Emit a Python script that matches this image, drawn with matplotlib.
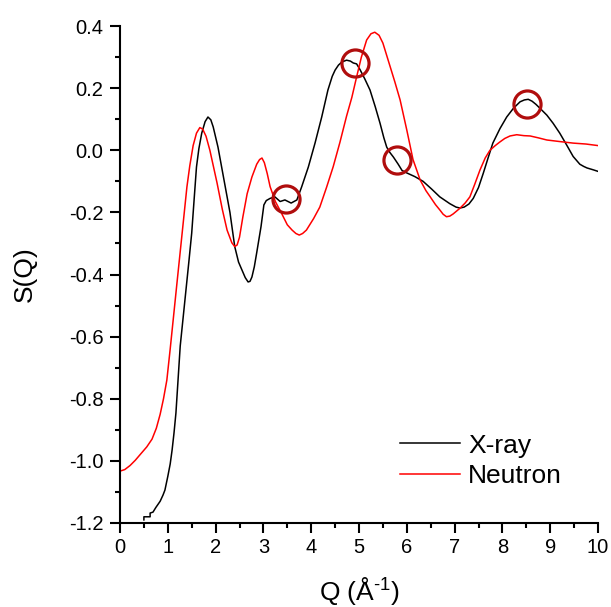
import numpy as np
import matplotlib
matplotlib.use("Agg")
import matplotlib.pyplot as plt
from matplotlib.ticker import MultipleLocator

plt.rcParams["font.family"] = ["Liberation Sans", "DejaVu Sans"]
plt.rcParams["mathtext.fontset"] = "custom"
plt.rcParams["mathtext.rm"] = "Liberation Sans"

# X-ray S(Q)
xray_q = [0.50, 0.50, 0.63, 0.63, 0.69, 0.75, 0.84, 0.90, 0.94, 1.00, 1.05, 1.09, 1.13, 1.17,
          1.21, 1.26, 1.32, 1.38, 1.44, 1.50, 1.55, 1.60, 1.65, 1.71, 1.78, 1.84, 1.90,
          1.95, 2.05, 2.15, 2.30, 2.40, 2.48, 2.55, 2.62, 2.68, 2.72, 2.76, 2.81, 2.86,
          2.95, 3.01, 3.06, 3.14, 3.24, 3.35, 3.45, 3.58, 3.70, 3.80, 3.94,
          4.08, 4.22, 4.35, 4.44, 4.50, 4.57, 4.64, 4.74, 4.82, 4.88, 4.95, 5.02, 5.12,
          5.23, 5.34, 5.44, 5.52, 5.58, 5.65, 5.72, 5.82, 5.90, 6.00, 6.17, 6.34, 6.52,
          6.69, 6.90, 7.03, 7.11, 7.20, 7.30, 7.39, 7.50, 7.60, 7.70, 7.80, 7.95, 8.09,
          8.23, 8.37, 8.46, 8.54, 8.62, 8.70, 8.80, 8.93, 9.06, 9.20, 9.34, 9.48, 9.62,
          9.70, 9.77, 9.90, 10.0]
xray_s = [-1.19, -1.18, -1.18, -1.168, -1.165, -1.15, -1.13, -1.11, -1.094, -1.05, -1.01, -0.965, -0.91, -0.846,
          -0.75, -0.63, -0.54, -0.45, -0.36, -0.267, -0.16, -0.054, 0.005, 0.055, 0.092, 0.107, 0.098,
          0.075, 0.01, -0.074, -0.20, -0.31, -0.36, -0.385, -0.41, -0.424, -0.422, -0.408, -0.375, -0.33,
          -0.246, -0.176, -0.162, -0.155, -0.15, -0.165, -0.16, -0.17, -0.16, -0.118, -0.054,
          0.023, 0.107, 0.194, 0.238, 0.258, 0.274, 0.284, 0.29, 0.287, 0.281, 0.278, 0.26, 0.23,
          0.194, 0.14, 0.087, 0.04, 0.01, -0.008, -0.022, -0.045, -0.065, -0.073, -0.085, -0.10, -0.125,
          -0.15, -0.172, -0.183, -0.186, -0.183, -0.173, -0.155, -0.12, -0.074, -0.025, 0.023, 0.07, 0.107,
          0.135, 0.156, 0.162, 0.164, 0.158, 0.148, 0.133, 0.113, 0.087, 0.055, 0.018, -0.02, -0.045,
          -0.052, -0.057, -0.063, -0.068]

# Neutron S(Q)
neut_q = [0.00, 0.10, 0.21, 0.32, 0.42, 0.56, 0.67, 0.76, 0.84, 0.91, 0.98, 1.05, 1.12,
          1.19, 1.30, 1.40, 1.46, 1.53, 1.60, 1.67, 1.73, 1.80, 1.88, 2.03, 2.14, 2.24,
          2.34, 2.40, 2.45, 2.50, 2.57, 2.66, 2.76, 2.86, 2.92, 2.97, 3.02, 3.08, 3.14,
          3.25, 3.38, 3.50, 3.60, 3.68, 3.75, 3.82, 3.90, 4.05, 4.18, 4.32, 4.46, 4.60,
          4.74, 4.85, 4.95, 5.05, 5.16, 5.25, 5.33, 5.42, 5.50, 5.57, 5.65, 5.75, 5.86,
          6.00, 6.13, 6.28, 6.40, 6.49, 6.60, 6.69, 6.76, 6.83, 6.90, 6.97, 7.11, 7.22,
          7.32, 7.42, 7.53, 7.64, 7.74, 7.85, 7.95, 8.05, 8.16, 8.30, 8.45, 8.58, 8.75,
          8.93, 9.20, 9.48, 9.75, 10.0]
neut_s = [-1.033, -1.028, -1.015, -0.998, -0.98, -0.955, -0.93, -0.895, -0.85, -0.80, -0.74, -0.64, -0.535,
          -0.43, -0.267, -0.118, -0.05, 0.015, 0.055, 0.073, 0.068, 0.045, 0.0, -0.105, -0.19, -0.257,
          -0.298, -0.31, -0.305, -0.28, -0.215, -0.14, -0.086, -0.045, -0.03, -0.025, -0.04, -0.075, -0.117,
          -0.165, -0.203, -0.24, -0.257, -0.268, -0.273, -0.268, -0.257, -0.22, -0.183, -0.12, -0.053, 0.025,
          0.11, 0.17, 0.236, 0.30, 0.355, 0.375, 0.38, 0.37, 0.345, 0.31, 0.27, 0.22, 0.162,
          0.065, -0.03, -0.096, -0.13, -0.15, -0.175, -0.192, -0.206, -0.214, -0.212, -0.205, -0.187, -0.17,
          -0.15, -0.11, -0.064, -0.025, 0.0, 0.015, 0.027, 0.038, 0.046, 0.05, 0.047, 0.046, 0.04,
          0.033, 0.028, 0.023, 0.02, 0.015]

# highlighted spots
circle_q = [3.47, 4.92, 5.79, 8.52]
circle_s = [-0.157, 0.28, -0.03, 0.149]

fig = plt.figure(figsize=(6.11, 6.07), dpi=100)
ax = fig.add_axes([120 / 611, 84 / 607, 478 / 611, 497 / 607])

ax.plot(xray_q, xray_s, color="black", lw=1.1, label="X-ray")
ax.plot(neut_q, neut_s, color="red", lw=1.1, label="Neutron")
ax.plot(circle_q, circle_s, ls="none", marker="o", ms=19.5, mfc="none",
        mec="#b00d0d", mew=2.3)

ax.set_xlim(0, 10)
ax.set_ylim(-1.2, 0.4)
ax.xaxis.set_major_locator(MultipleLocator(1))
ax.xaxis.set_minor_locator(MultipleLocator(0.5))
ax.yaxis.set_major_locator(MultipleLocator(0.2))
ax.yaxis.set_minor_locator(MultipleLocator(0.1))
ax.yaxis.set_major_formatter(plt.FuncFormatter(lambda v, p: "%.1f" % v))

for side in ["top", "right"]:
    ax.spines[side].set_visible(False)
for side in ["left", "bottom"]:
    ax.spines[side].set_linewidth(1.5)
ax.tick_params(which="major", direction="out", length=7, width=1.5, labelsize=14.5, pad=4)
ax.tick_params(which="minor", direction="out", length=3.5, width=1.5)
ax.tick_params(axis="y", which="major", pad=5)

ax.set_xlabel(r"Q (Å$^{\text{-1}}$)", fontsize=19)
ax.set_ylabel("S(Q)", fontsize=19)
ax.xaxis.set_label_coords(0.5, -0.105)
ax.yaxis.set_label_coords(-0.175, 0.5)

ax.legend(loc="upper left", bbox_to_anchor=(0.585, 0.18), frameon=False,
          fontsize=19, handlelength=2.3, handletextpad=0.3, borderpad=0,
          borderaxespad=0, labelspacing=0.25)

fig.savefig("out.png", dpi=100)
